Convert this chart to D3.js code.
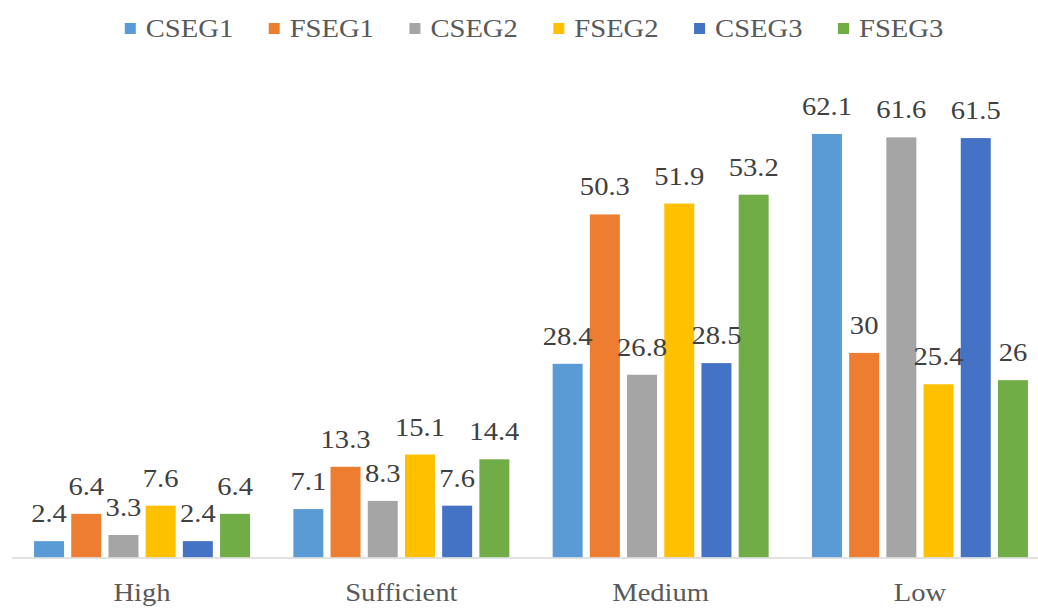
<!DOCTYPE html>
<html>
<head>
<meta charset="utf-8">
<script src="https://cdn.jsdelivr.net/npm/d3@7"></script>
<style>
  html, body { margin: 0; padding: 0; background: #fff; }
  svg { display: block; }
  text { font-family: "Liberation Serif", "Times New Roman", serif; }
</style>
</head>
<body>
<svg id="chart" width="1038" height="609"></svg>
<script>
// Rating categories along the x axis
const categories = ["High", "Sufficient", "Medium", "Low"];

// Series names (legend order)
const seriesNames = ["CSEG1", "FSEG1", "CSEG2", "FSEG2", "CSEG3", "FSEG3"];

// Percentages per series, one value per category
const CSEG1 = [2.4, 7.1, 28.4, 62.1];
const FSEG1 = [6.4, 13.3, 50.3, 30];
const CSEG2 = [3.3, 8.3, 26.8, 61.6];
const FSEG2 = [7.6, 15.1, 51.9, 25.4];
const CSEG3 = [2.4, 7.6, 28.5, 61.5];
const FSEG3 = [6.4, 14.4, 53.2, 26];

const seriesValues = [CSEG1, FSEG1, CSEG2, FSEG2, CSEG3, FSEG3];
const colors = ["#5B9BD5", "#ED7D31", "#A5A5A5", "#FFC000", "#4472C4", "#70AD47"];

const svg = d3.select("#chart");
const W = 1038;

const FONT = 26;       // serif label size
const STRETCH = 1.1;   // slight horizontal widening of the type

// Scales
const x0 = d3.scaleBand()
  .domain(categories)
  .range([12.4, 1049.6])
  .paddingInner(0.167)
  .paddingOuter(0.0835);

const x1 = d3.scaleBand()
  .domain(seriesNames)
  .range([0, x0.bandwidth()])
  .paddingInner(0.194)
  .paddingOuter(0);

const y = d3.scaleLinear()
  .domain([0, 70])
  .range([557.5, 557.5 - 70 * 6.82]);

const labelTop = 106; // highest baseline allowed for value labels

function stretchedText(sel, xf, yf) {
  return sel.attr("transform", (d, i) => `translate(${xf(d, i)},${yf(d, i)}) scale(${STRETCH},1)`);
}

// Data rows: one per category with a value for each series
const rows = categories.map((c, ci) => ({
  category: c,
  items: seriesNames.map((s, si) => ({ series: s, value: seriesValues[si][ci], color: colors[si] }))
}));

// Bars
const groups = svg.append("g").selectAll("g.group")
  .data(rows)
  .join("g")
  .attr("class", "group")
  .attr("transform", d => `translate(${x0(d.category)},0)`);

groups.selectAll("rect")
  .data(d => d.items)
  .join("rect")
  .attr("x", d => x1(d.series))
  .attr("y", d => y(d.value))
  .attr("width", x1.bandwidth())
  .attr("height", d => y(0) - y(d.value))
  .attr("fill", d => d.color);

// Value labels above each bar
stretchedText(
  groups.selectAll("text.value")
    .data(d => d.items)
    .join("text")
    .attr("class", "value")
    .attr("text-anchor", "middle")
    .attr("font-size", FONT)
    .attr("fill", "#404040")
    .text(d => d3.format("")(d.value)),
  d => x1(d.series) + x1.bandwidth() / 2,
  d => Math.max(y(d.value) - 19, labelTop)
);

// Category axis baseline
svg.append("line")
  .attr("x1", 12)
  .attr("x2", W)
  .attr("y1", y(0) + 0.5)
  .attr("y2", y(0) + 0.5)
  .attr("stroke", "#d9d9d9")
  .attr("stroke-width", 1.3);

// Category labels
const xAxis = d3.axisBottom(x0).tickSize(0).tickPadding(0);
const axisG = svg.append("g").attr("transform", `translate(0,${y(0)})`).call(xAxis);
axisG.select(".domain").remove();
axisG.selectAll(".tick text")
  .attr("font-family", "Liberation Serif, serif")
  .attr("font-size", FONT)
  .attr("fill", "#595959")
  .attr("dy", null)
  .attr("y", 44)
  .attr("transform", `scale(${STRETCH},1)`)
  .each(function () {
    // keep the label centred on the tick after widening
    d3.select(this).attr("x", 0);
  });

// Legend, laid out from the measured label widths and centred
const legend = svg.append("g").attr("class", "legend");
const sw = 11, gapText = 10, gapItem = 35.5;
const items = legend.selectAll("g").data(seriesNames).join("g");
items.append("rect")
  .attr("width", sw).attr("height", sw)
  .attr("y", 23)
  .attr("fill", (d, i) => colors[i]);
items.append("text")
  .attr("font-size", FONT)
  .attr("fill", "#595959")
  .attr("transform", `translate(${sw + gapText},37) scale(${STRETCH},1)`)
  .text(d => d);

let cursor = 0;
const offsets = [];
items.each(function () {
  const w = d3.select(this).select("text").node().getComputedTextLength() * STRETCH;
  offsets.push(cursor);
  cursor += sw + gapText + w + gapItem;
});
const total = cursor - gapItem;
const start = 534 - total / 2;
items.attr("transform", (d, i) => `translate(${start + offsets[i]},0)`);
</script>
</body>
</html>
